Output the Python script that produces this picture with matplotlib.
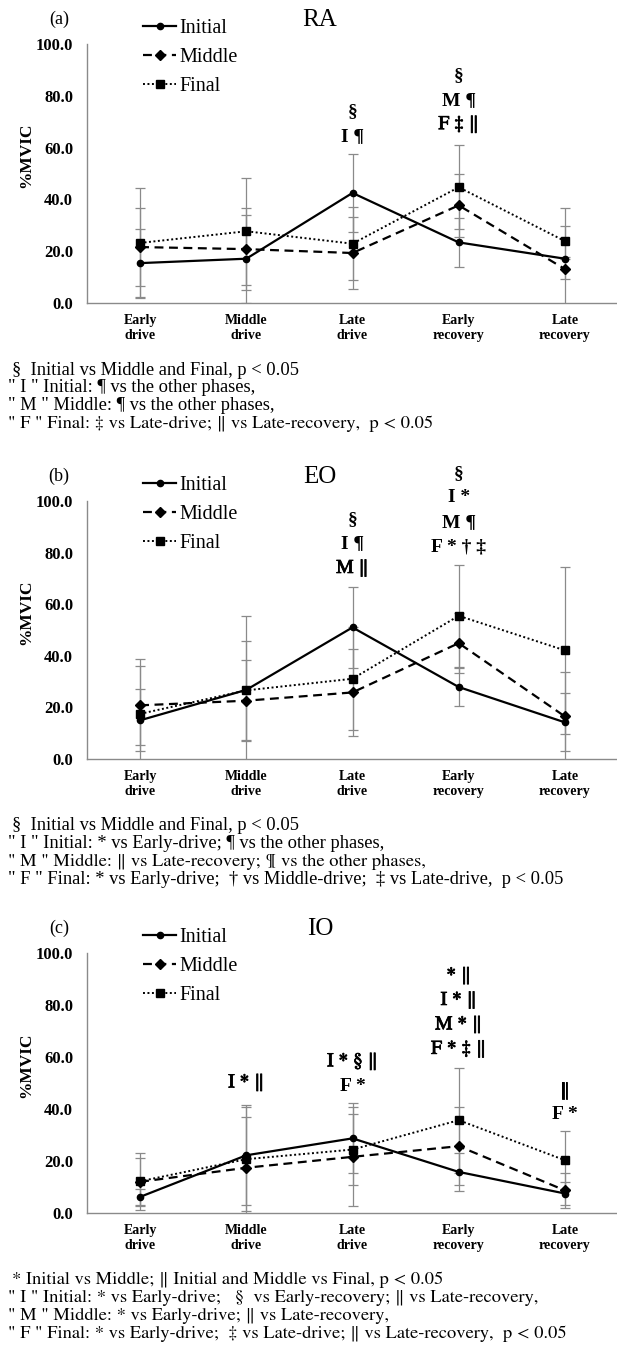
import matplotlib
matplotlib.use('Agg')
import matplotlib.pyplot as plt
import matplotlib.patheffects as pe

plt.rcParams['font.family'] = ['Liberation Serif', 'DejaVu Serif']
# STIX (shipped with matplotlib) has a tall, Times-like double bar
BAR_FONT = ['STIXGeneral', 'Liberation Serif', 'DejaVu Serif']

W, H = 617, 1355

phases = ['Early\ndrive', 'Middle\ndrive', 'Late\ndrive', 'Early\nrecovery', 'Late\nrecovery']
yticks = [0, 20, 40, 60, 80, 100]

# RA
ra_initial = [15.4, 17.1, 42.5, 23.4, 17.1]
ra_initial_sd = [13.2, 17.0, 15.2, 9.5, 19.6]
ra_middle = [21.6, 20.8, 19.3, 37.7, 13.1]
ra_middle_sd = [15.1, 15.9, 13.9, 12.2, 4.0]
ra_final = [23.2, 27.7, 22.9, 44.7, 23.9]
ra_final_sd = [21.2, 20.6, 14.2, 16.2, 6.0]

# EO
eo_initial = [15.0, 26.8, 51.0, 27.9, 14.2]
eo_initial_sd = [12.0, 28.7, 15.8, 7.5, 11.2]
eo_middle = [20.8, 22.6, 25.8, 44.9, 16.5]
eo_middle_sd = [15.3, 15.6, 16.9, 11.6, 17.2]
eo_final = [17.5, 26.6, 31.1, 55.5, 42.1]
eo_final_sd = [21.2, 19.3, 20.0, 19.7, 32.5]

# IO
io_initial = [6.2, 22.2, 28.7, 15.8, 7.5]
io_initial_sd = [3.0, 19.3, 13.5, 7.4, 4.5]
io_middle = [12.0, 17.4, 21.6, 25.7, 8.7]
io_middle_sd = [9.2, 19.4, 19.0, 14.9, 6.7]
io_final = [12.2, 20.7, 24.4, 35.7, 20.3]
io_final_sd = [10.9, 19.9, 13.7, 20.2, 11.2]

# significance marks: (phase index, lines from top to bottom, value of lowest line)
ra_marks = [(2, ['§', 'I ¶'], 64.3),
            (3, ['§', 'M ¶', 'F ‡ ‖'], 68.9)]
eo_marks = [(2, ['§', 'I ¶', 'M ‖'], 73.9),
            (3, ['§', 'I *', 'M ¶', 'F * † ‡'], 82.3)]
io_marks = [(1, ['I * ‖'], 50.1),
            (2, ['I * § ‖', 'F *'], 48.8),
            (3, ['* ‖', 'I * ‖', 'M * ‖', 'F * ‡ ‖'], 63.0),
            (4, ['‖', 'F *'], 37.7)]

ra_notes = ['§  Initial vs Middle and Final, p < 0.05',
            '" I " Initial: ¶ vs the other phases,',
            '" M " Middle: ¶ vs the other phases,',
            '" F " Final: ‡ vs Late-drive; ‖ vs Late-recovery,  p < 0.05']
eo_notes = ['§  Initial vs Middle and Final, p < 0.05',
            '" I " Initial: * vs Early-drive; ¶ vs the other phases,',
            '" M " Middle: ‖ vs Late-recovery; ¶ vs the other phases,',
            '" F " Final: * vs Early-drive;  † vs Middle-drive;  ‡ vs Late-drive,  p < 0.05']
io_notes = ['* Initial vs Middle; ‖ Initial and Middle vs Final, p < 0.05',
            '" I " Initial: * vs Early-drive;   §  vs Early-recovery; ‖ vs Late-recovery,',
            '" M " Middle: * vs Early-drive; ‖ vs Late-recovery,',
            '" F " Final: * vs Early-drive;  ‡ vs Late-drive; ‖ vs Late-recovery,  p < 0.05']

GRAY = '#8a8a8a'


def fam(txt):
    return BAR_FONT if '‖' in txt else plt.rcParams['font.family']


def draw_panel(fig, top_px, bottom_px, tag, title, series, marks, notes):
    ax = fig.add_axes([87 / W, 1 - bottom_px / H, 531 / W, (bottom_px - top_px) / H])
    x = list(range(len(phases)))
    styles = [('Initial', '-', 'o', 4.5, 1.6),
              ('Middle', (0, (4, 2.5)), 'D', 5.0, 1.6),
              ('Final', (0, (1, 1.3)), 's', 5.5, 1.4)]
    for (label, ls, mk, ms, lw), (vals, sd) in zip(styles, series):
        ax.errorbar(x, vals, yerr=sd, fmt='none', ecolor=GRAY, elinewidth=0.9,
                    capsize=3.5, capthick=0.9, zorder=1)
        ax.plot(x, vals, color='black', linestyle=ls, linewidth=lw, marker=mk,
                markersize=ms, label=label, zorder=3)

    ax.set_xlim(-0.5, 4.5)
    ax.set_ylim(0, 100)
    ax.set_xticks(x)
    ax.set_xticklabels(phases, fontsize=10, fontweight='bold')
    ax.set_yticks(yticks)
    ax.set_yticklabels(['%.1f' % v for v in yticks], fontsize=12, fontweight='bold')
    ax.tick_params(axis='x', length=0, pad=8)
    ax.tick_params(axis='y', length=0, pad=10)
    for s in ['top', 'right']:
        ax.spines[s].set_visible(False)
    for s in ['left', 'bottom']:
        ax.spines[s].set_color(GRAY)
        ax.spines[s].set_linewidth(1.0)

    hgt = bottom_px - top_px
    ax.text(-0.115, 0.57, '%MVIC', transform=ax.transAxes, rotation=90,
            ha='center', va='center', fontsize=12.5, fontweight='bold')
    ax.text((59 - 87) / 531, 1 + 25 / hgt, tag, transform=ax.transAxes,
            ha='center', va='center', fontsize=13)
    ax.text((320 - 87) / 531, 1 + 24 / hgt, title, transform=ax.transAxes,
            ha='center', va='center', fontsize=18)

    ax.legend(loc='upper left', bbox_to_anchor=((143 - 87) / 531, 1 + 25 / hgt),
              frameon=False, fontsize=14.5, handlelength=1.65, handletextpad=0.15,
              labelspacing=0.48, borderpad=0, borderaxespad=0)

    for idx, lines, base in marks:
        n = len(lines)
        for k, txt in enumerate(lines):
            if '‖' in txt:
                # regular STIX, thickened with a stroke to look bold
                kw = dict(family=BAR_FONT, fontweight='normal',
                          path_effects=[pe.withStroke(linewidth=0.6, foreground='black')])
            else:
                kw = dict(fontweight='bold')
            ax.annotate(txt, xy=(idx, base), xytext=(0, (n - 1 - k) * 17.6),
                        textcoords='offset points', ha='center', va='center',
                        fontsize=14, annotation_clip=False, **kw)

    for k, txt in enumerate(notes):
        xpos = 12 if k == 0 else 8
        fig.text(xpos / W, 1 - (bottom_px + 67 + 18 * k) / H, txt,
                 ha='left', va='center', fontsize=13.3, family=fam(txt))
    return ax


fig = plt.figure(figsize=(W / 100, H / 100), dpi=100)

draw_panel(fig, 44, 303, '(a)', 'RA',
           [(ra_initial, ra_initial_sd), (ra_middle, ra_middle_sd), (ra_final, ra_final_sd)],
           ra_marks, ra_notes)
draw_panel(fig, 501, 759, '(b)', 'EO',
           [(eo_initial, eo_initial_sd), (eo_middle, eo_middle_sd), (eo_final, eo_final_sd)],
           eo_marks, eo_notes)
draw_panel(fig, 953, 1213, '(c)', 'IO',
           [(io_initial, io_initial_sd), (io_middle, io_middle_sd), (io_final, io_final_sd)],
           io_marks, io_notes)

fig.savefig('out.png', dpi=100, facecolor='white')
